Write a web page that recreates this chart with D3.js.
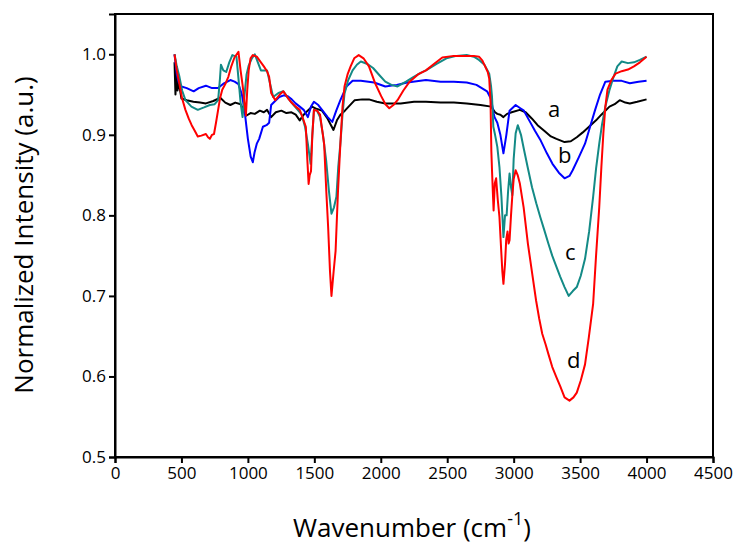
<!DOCTYPE html>
<html>
<head>
<meta charset="utf-8">
<script src="https://cdn.jsdelivr.net/npm/d3@7"></script>
<style>
  body { margin: 0; background: #fff; }
  svg text { font-family: "Open Sans", "Liberation Sans", sans-serif; }
</style>
</head>
<body>
<div id="chart"></div>
<script>
'use strict';

// tick labels
const xTicks = [0, 500, 1000, 1500, 2000, 2500, 3000, 3500, 4000, 4500];
const yTicks = [0.5, 0.6, 0.7, 0.8, 0.9, 1.0];

// spectra: [wavenumber, intensity]
const seriesA = [
  [448, 0.99], [455, 0.95], [462, 0.98], [470, 0.955], [480, 0.965], [500, 0.945], [540, 0.943],
  [590, 0.941], [640, 0.94], [684, 0.939], [740, 0.942], [792, 0.946], [830, 0.94], [868, 0.937],
  [905, 0.94], [945, 0.938], [970, 0.93], [990, 0.924], [1020, 0.927], [1052, 0.926], [1090, 0.93],
  [1120, 0.928], [1144, 0.931], [1175, 0.922], [1210, 0.928], [1252, 0.93], [1290, 0.927],
  [1328, 0.928], [1360, 0.925], [1390, 0.918], [1420, 0.925], [1450, 0.93], [1482, 0.935],
  [1520, 0.932], [1558, 0.93], [1600, 0.92], [1644, 0.906], [1670, 0.918], [1696, 0.925],
  [1730, 0.93], [1758, 0.935], [1804, 0.943], [1860, 0.944], [1911, 0.944], [1970, 0.941],
  [2034, 0.939], [2150, 0.939], [2250, 0.941], [2340, 0.941], [2450, 0.94], [2550, 0.94],
  [2647, 0.939], [2750, 0.937], [2831, 0.935], [2860, 0.928], [2877, 0.926], [2900, 0.925],
  [2923, 0.922], [2950, 0.926], [2985, 0.928], [3046, 0.931], [3090, 0.928], [3138, 0.92],
  [3180, 0.912], [3230, 0.905], [3280, 0.898], [3322, 0.895], [3383, 0.891], [3430, 0.892],
  [3475, 0.897], [3520, 0.903], [3567, 0.91], [3620, 0.918], [3660, 0.925], [3721, 0.935],
  [3760, 0.938], [3798, 0.943], [3840, 0.94], [3874, 0.939], [3930, 0.941], [4000, 0.944]
];

const seriesB = [
  [448, 1.0], [465, 0.975], [480, 0.965], [500, 0.96], [540, 0.958], [592, 0.954], [630, 0.958],
  [684, 0.961], [730, 0.958], [776, 0.958], [820, 0.964], [868, 0.968], [900, 0.966], [929, 0.963],
  [955, 0.95], [975, 0.93], [1000, 0.895], [1021, 0.873], [1037, 0.866], [1050, 0.878],
  [1067, 0.889], [1085, 0.895], [1113, 0.91], [1140, 0.912], [1160, 0.915], [1175, 0.937],
  [1205, 0.942], [1236, 0.947], [1270, 0.949], [1298, 0.948], [1330, 0.944], [1359, 0.939],
  [1390, 0.935], [1420, 0.931], [1451, 0.922], [1475, 0.935], [1497, 0.941], [1530, 0.937],
  [1558, 0.931], [1600, 0.922], [1635, 0.916], [1665, 0.93], [1696, 0.943], [1742, 0.96],
  [1788, 0.967], [1850, 0.967], [1950, 0.965], [2034, 0.96], [2120, 0.962], [2200, 0.965],
  [2340, 0.968], [2450, 0.966], [2550, 0.966], [2647, 0.965], [2720, 0.962], [2800, 0.954],
  [2831, 0.944], [2845, 0.93], [2856, 0.922], [2877, 0.915], [2900, 0.9], [2923, 0.877],
  [2945, 0.9], [2969, 0.93], [3015, 0.937], [3050, 0.933], [3077, 0.93], [3120, 0.917],
  [3160, 0.905], [3200, 0.894], [3250, 0.877], [3292, 0.864], [3340, 0.853], [3383, 0.846],
  [3420, 0.849], [3444, 0.856], [3490, 0.872], [3537, 0.889], [3575, 0.91], [3613, 0.931],
  [3650, 0.95], [3690, 0.966], [3750, 0.967], [3813, 0.967], [3874, 0.964], [3940, 0.966],
  [4000, 0.967]
];

const seriesC = [
  [448, 1.0], [465, 0.985], [485, 0.972], [505, 0.955], [530, 0.943], [575, 0.935], [623, 0.931],
  [670, 0.934], [714, 0.937], [750, 0.938], [776, 0.943], [790, 0.97], [797, 0.987], [815, 0.98],
  [837, 0.978], [860, 0.99], [883, 0.999], [914, 0.997], [929, 0.97], [945, 0.94], [960, 0.922],
  [975, 0.95], [990, 0.975], [1006, 0.986], [1030, 0.995], [1052, 1.0], [1075, 0.99], [1098, 0.98],
  [1120, 0.98], [1144, 0.98], [1165, 0.965], [1190, 0.947], [1230, 0.952], [1267, 0.954],
  [1305, 0.945], [1344, 0.937], [1380, 0.93], [1405, 0.925], [1430, 0.91], [1451, 0.889],
  [1472, 0.864], [1485, 0.9], [1497, 0.931], [1520, 0.93], [1543, 0.922], [1565, 0.9],
  [1589, 0.868], [1610, 0.83], [1629, 0.802], [1648, 0.81], [1666, 0.823], [1680, 0.86],
  [1696, 0.889], [1712, 0.925], [1727, 0.951], [1755, 0.968], [1788, 0.98], [1820, 0.987],
  [1850, 0.991], [1900, 0.988], [1942, 0.983], [1990, 0.974], [2034, 0.966], [2080, 0.962],
  [2126, 0.96], [2190, 0.966], [2248, 0.972], [2300, 0.977], [2340, 0.98], [2420, 0.988],
  [2494, 0.995], [2570, 0.998], [2647, 0.999], [2700, 0.997], [2739, 0.993], [2780, 0.987],
  [2816, 0.976], [2830, 0.96], [2837, 0.947], [2847, 0.91], [2860, 0.9], [2877, 0.885],
  [2893, 0.86], [2908, 0.823], [2923, 0.773], [2935, 0.8], [2947, 0.8], [2958, 0.83],
  [2969, 0.852], [2980, 0.835], [2990, 0.825], [3000, 0.87], [3015, 0.902], [3031, 0.912],
  [3055, 0.9], [3077, 0.882], [3105, 0.86], [3138, 0.835], [3170, 0.815], [3200, 0.798],
  [3230, 0.782], [3261, 0.765], [3290, 0.75], [3322, 0.736], [3350, 0.724], [3383, 0.711],
  [3414, 0.7], [3445, 0.706], [3475, 0.711], [3505, 0.725], [3537, 0.746], [3568, 0.78],
  [3598, 0.823], [3620, 0.858], [3644, 0.889], [3665, 0.913], [3690, 0.935], [3720, 0.955],
  [3752, 0.972], [3780, 0.985], [3813, 0.991], [3860, 0.989], [3905, 0.99], [3950, 0.993],
  [4000, 0.997]
];

const seriesD = [
  [448, 1.0], [465, 0.98], [485, 0.963], [505, 0.945], [530, 0.931], [555, 0.92], [577, 0.912],
  [600, 0.905], [623, 0.898], [650, 0.899], [684, 0.901], [700, 0.897], [714, 0.895], [730, 0.9],
  [745, 0.901], [760, 0.915], [776, 0.931], [790, 0.945], [807, 0.956], [830, 0.963], [853, 0.972],
  [875, 0.985], [899, 0.996], [929, 1.003], [945, 0.98], [960, 0.962], [985, 0.924], [995, 0.955],
  [1006, 0.98], [1020, 0.995], [1037, 0.999], [1067, 0.997], [1098, 0.99], [1120, 0.985],
  [1144, 0.979], [1160, 0.972], [1175, 0.952], [1206, 0.943], [1240, 0.95], [1267, 0.954],
  [1300, 0.946], [1328, 0.94], [1360, 0.935], [1390, 0.931], [1415, 0.92], [1436, 0.91],
  [1447, 0.87], [1457, 0.839], [1465, 0.85], [1475, 0.855], [1485, 0.9], [1497, 0.931],
  [1520, 0.93], [1543, 0.925], [1560, 0.905], [1574, 0.888], [1590, 0.83], [1604, 0.785],
  [1618, 0.73], [1629, 0.7], [1645, 0.73], [1660, 0.756], [1678, 0.83], [1696, 0.889],
  [1712, 0.935], [1727, 0.96], [1750, 0.975], [1773, 0.985], [1800, 0.995], [1834, 0.999],
  [1870, 0.995], [1911, 0.985], [1955, 0.965], [2003, 0.948], [2035, 0.938], [2064, 0.933],
  [2095, 0.937], [2126, 0.943], [2170, 0.955], [2217, 0.966], [2280, 0.975], [2340, 0.98],
  [2400, 0.988], [2463, 0.996], [2550, 0.998], [2647, 0.998], [2700, 0.998], [2739, 0.997],
  [2765, 0.992], [2785, 0.985], [2805, 0.978], [2816, 0.97], [2826, 0.94], [2832, 0.88],
  [2837, 0.856], [2843, 0.83], [2849, 0.806], [2858, 0.84], [2868, 0.846], [2880, 0.82],
  [2893, 0.798], [2905, 0.76], [2915, 0.73], [2923, 0.715], [2935, 0.74], [2944, 0.77],
  [2954, 0.78], [2962, 0.765], [2969, 0.769], [2980, 0.8], [2990, 0.825], [3000, 0.845],
  [3015, 0.856], [3030, 0.85], [3046, 0.84], [3075, 0.81], [3107, 0.765], [3140, 0.727],
  [3169, 0.694], [3192, 0.672], [3215, 0.653], [3240, 0.64], [3261, 0.628], [3290, 0.612],
  [3322, 0.599], [3350, 0.588], [3383, 0.574], [3420, 0.57], [3450, 0.574], [3475, 0.58],
  [3505, 0.595], [3537, 0.615], [3565, 0.648], [3598, 0.69], [3620, 0.75], [3644, 0.81],
  [3660, 0.86], [3675, 0.902], [3690, 0.935], [3706, 0.956], [3735, 0.968], [3767, 0.976],
  [3813, 0.979], [3860, 0.981], [3905, 0.985], [3950, 0.99], [4000, 0.997]
];

const seriesNames = ['a', 'b', 'c', 'd'];
const seriesColors = ['#000000', '#0000ff', '#138a86', '#ff0000'];
const labelPos = [[3258, 0.922], [3334, 0.865], [3386, 0.745], [3401, 0.610]];

const width = 736, height = 546;
const margin = {top: 14, right: 23, bottom: 89, left: 115};

const svg = d3.select('#chart')
  .append('svg')
    .attr('width', width)
    .attr('height', height);

const x = d3.scaleLinear()
  .domain([0, 4500])
  .range([margin.left, width - margin.right]);

const y = d3.scaleLinear()
  .domain([0.5, 1.05])
  .range([height - margin.bottom, margin.top]);

// frame
svg.append('rect')
  .attr('x', margin.left)
  .attr('y', margin.top)
  .attr('width', width - margin.left - margin.right)
  .attr('height', height - margin.top - margin.bottom)
  .attr('fill', 'none')
  .attr('stroke', '#000')
  .attr('stroke-width', 2);

// x axis
const xAxis = svg.append('g')
  .attr('transform', `translate(0,${height - margin.bottom})`)
  .call(d3.axisBottom(x).tickValues(xTicks).tickFormat(d3.format('d')).tickSize(6).tickPadding(4));
xAxis.select('.domain').attr('stroke-width', 2);
xAxis.selectAll('.tick line').attr('stroke-width', 2);
xAxis.selectAll('text').attr('font-size', 17).attr('fill', '#000');

// y axis
const yAxis = svg.append('g')
  .attr('transform', `translate(${margin.left},0)`)
  .call(d3.axisLeft(y).tickValues(yTicks).tickFormat(d3.format('.1f')).tickSize(6).tickPadding(3));
yAxis.select('.domain').attr('stroke-width', 2);
yAxis.selectAll('.tick line').attr('stroke-width', 2);
yAxis.selectAll('text').attr('font-size', 17).attr('fill', '#000');

// lines
const line = d3.line()
  .x(d => x(d[0]))
  .y(d => y(d[1]));

const allSeries = [seriesA, seriesB, seriesC, seriesD];
svg.append('g')
  .selectAll('path')
  .data(allSeries)
  .join('path')
    .attr('fill', 'none')
    .attr('stroke', (d, i) => seriesColors[i])
    .attr('stroke-width', 2)
    .attr('stroke-linejoin', 'round')
    .attr('d', line);

// series letters
svg.append('g')
  .selectAll('text')
  .data(seriesNames)
  .join('text')
    .attr('x', (d, i) => x(labelPos[i][0]))
    .attr('y', (d, i) => y(labelPos[i][1]))
    .attr('font-size', 22)
    .attr('fill', '#000')
    .text(d => d);

// axis titles
const xTitle = svg.append('text')
  .attr('x', 412)
  .attr('y', 537)
  .attr('text-anchor', 'middle')
  .attr('font-size', 26)
  .attr('fill', '#000');
xTitle.append('tspan').text('Wavenumber (cm');
xTitle.append('tspan').attr('font-size', 18).attr('dy', -12).text('-1');
xTitle.append('tspan').attr('dy', 12).text(')');

svg.append('text')
  .attr('transform', 'translate(33,235) rotate(-90)')
  .attr('text-anchor', 'middle')
  .attr('font-size', 26)
  .attr('fill', '#000')
  .text('Normalized Intensity (a.u.)');
</script>
</body>
</html>
